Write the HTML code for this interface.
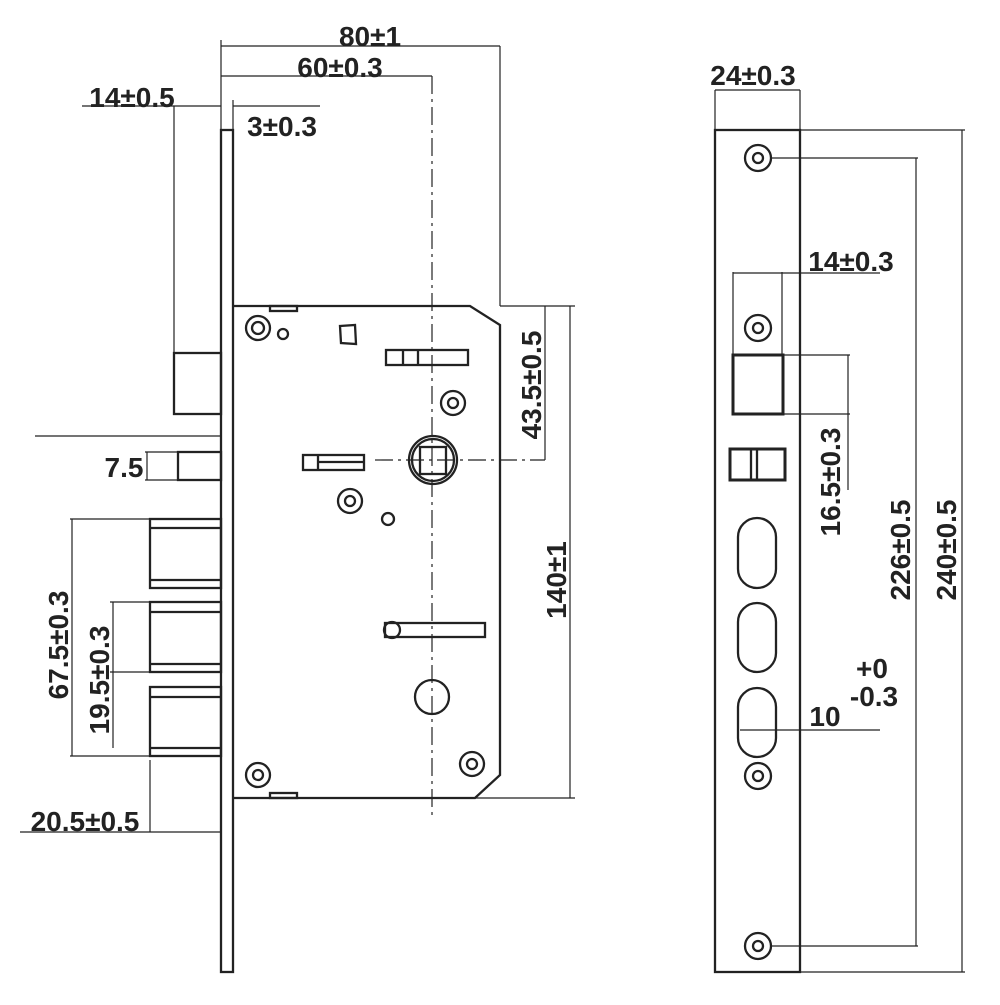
<!DOCTYPE html>
<html><head><meta charset="utf-8"><style>
html,body{margin:0;padding:0;background:#fff}
svg text{font-family:"Liberation Sans",Arial,sans-serif;font-weight:bold;font-size:28px;fill:#222}
</style></head><body>
<svg width="1000" height="1000" viewBox="0 0 1000 1000" xmlns="http://www.w3.org/2000/svg">
<g fill="none" stroke="#222" stroke-width="1.2">
<line x1="221" y1="46" x2="500" y2="46"/>
<line x1="500" y1="46" x2="500" y2="306"/>
<line x1="221" y1="40" x2="221" y2="130"/>
<line x1="221" y1="76" x2="432" y2="76"/>
<line x1="82" y1="106" x2="221" y2="106"/>
<line x1="233" y1="106" x2="320" y2="106"/>
<line x1="233" y1="100" x2="233" y2="306"/>
<line x1="174" y1="106" x2="174" y2="353"/>
<line x1="432" y1="76" x2="432" y2="820" stroke-dasharray="18,5,3,5"/>
<line x1="375" y1="460" x2="545" y2="460" stroke-dasharray="18,5,3,5"/>
<line x1="545" y1="306" x2="545" y2="460"/>
<line x1="500" y1="306" x2="575" y2="306"/>
<line x1="475" y1="798" x2="575" y2="798"/>
<line x1="570" y1="306" x2="570" y2="798"/>
<line x1="35" y1="436" x2="221" y2="436"/>
<line x1="145" y1="452" x2="178" y2="452"/>
<line x1="145" y1="480" x2="178" y2="480"/>
<line x1="147" y1="452" x2="147" y2="480"/>
<line x1="70" y1="519" x2="150" y2="519"/>
<line x1="70" y1="756" x2="150" y2="756"/>
<line x1="72" y1="519" x2="72" y2="756"/>
<line x1="110" y1="602" x2="150" y2="602"/>
<line x1="110" y1="672" x2="150" y2="672"/>
<line x1="113" y1="602" x2="113" y2="748"/>
<line x1="20" y1="832" x2="221" y2="832"/>
<line x1="150" y1="760" x2="150" y2="832"/>
<line x1="715" y1="90" x2="800" y2="90"/>
<line x1="715" y1="90" x2="715" y2="130"/>
<line x1="800" y1="90" x2="800" y2="130"/>
<line x1="772" y1="158" x2="918" y2="158"/>
<line x1="772" y1="946" x2="918" y2="946"/>
<line x1="916" y1="158" x2="916" y2="946"/>
<line x1="800" y1="130" x2="965" y2="130"/>
<line x1="800" y1="972" x2="965" y2="972"/>
<line x1="962" y1="130" x2="962" y2="972"/>
<line x1="733" y1="272" x2="733" y2="355"/>
<line x1="782" y1="272" x2="782" y2="355"/>
<line x1="733" y1="273" x2="880" y2="273"/>
<line x1="783" y1="355" x2="850" y2="355"/>
<line x1="783" y1="414" x2="850" y2="414"/>
<line x1="848" y1="355" x2="848" y2="490"/>
<line x1="740" y1="730" x2="880" y2="730"/>
</g>
<g fill="none" stroke="#222" stroke-width="2.3">
<rect x="221" y="130" width="12" height="842"/>
<path d="M233 306 H470 L500 325 V775 L475 798 H233"/>
<rect x="174" y="353" width="47" height="61"/>
<rect x="178" y="452" width="43" height="28"/>
<rect x="150" y="519" width="71" height="69"/>
<line x1="150" y1="528" x2="221" y2="528"/><line x1="150" y1="580" x2="221" y2="580"/>
<rect x="150" y="602" width="71" height="70"/>
<line x1="150" y1="612" x2="221" y2="612"/><line x1="150" y1="664" x2="221" y2="664"/>
<rect x="150" y="687" width="71" height="69"/>
<line x1="150" y1="697" x2="221" y2="697"/><line x1="150" y1="748" x2="221" y2="748"/>
<rect x="270" y="306" width="27" height="5"/>
<rect x="270" y="793" width="27" height="5"/>
<circle cx="258" cy="328" r="12"/><circle cx="258" cy="328" r="6"/>
<circle cx="283" cy="334" r="5"/>
<path d="M340 326 L355 325 L356 344 L341 343 Z"/>
<rect x="386" y="350" width="82" height="15"/>
<line x1="403" y1="350" x2="403" y2="365"/><line x1="418" y1="350" x2="418" y2="365"/>
<circle cx="453" cy="403" r="12"/><circle cx="453" cy="403" r="5"/>
<circle cx="433" cy="460" r="24"/><circle cx="433" cy="460" r="21"/>
<rect x="420" y="447" width="26" height="27"/>
<rect x="303" y="455" width="61" height="15"/>
<line x1="318" y1="455" x2="318" y2="470"/><line x1="318" y1="462" x2="364" y2="462"/>
<circle cx="350" cy="501" r="12"/><circle cx="350" cy="501" r="5"/>
<circle cx="388" cy="519" r="6"/>
<rect x="385" y="623" width="100" height="14"/>
<circle cx="392" cy="630" r="8"/>
<circle cx="432" cy="697" r="17"/>
<circle cx="258" cy="775" r="12"/><circle cx="258" cy="775" r="5"/>
<circle cx="472" cy="764" r="12"/><circle cx="472" cy="764" r="5"/>
<rect x="715" y="130" width="85" height="842"/>
<circle cx="758" cy="158" r="13"/><circle cx="758" cy="158" r="5"/>
<circle cx="758" cy="946" r="13"/><circle cx="758" cy="946" r="5"/>
<circle cx="758" cy="328" r="13"/><circle cx="758" cy="328" r="5"/>
<circle cx="758" cy="776" r="13"/><circle cx="758" cy="776" r="5"/>
<rect x="733" y="355" width="50" height="59" stroke-width="3"/>
<rect x="730" y="449" width="55" height="31" stroke-width="3"/>
<line x1="751" y1="449" x2="751" y2="480"/><line x1="757" y1="449" x2="757" y2="480"/>
<rect x="738" y="518" width="38" height="70" rx="19"/>
<rect x="738" y="603" width="38" height="69" rx="19"/>
<rect x="738" y="688" width="38" height="69" rx="19"/>
</g>
<text x="370" y="46" text-anchor="middle">80±1</text>
<text x="340" y="77" text-anchor="middle">60±0.3</text>
<text x="132" y="107" text-anchor="middle">14±0.5</text>
<text x="282" y="136" text-anchor="middle">3±0.3</text>
<text x="124" y="477" text-anchor="middle">7.5</text>
<text x="85" y="831" text-anchor="middle">20.5±0.5</text>
<text transform="translate(68,645) rotate(-90)" text-anchor="middle">67.5±0.3</text>
<text transform="translate(109,680) rotate(-90)" text-anchor="middle">19.5±0.3</text>
<text transform="translate(541,385) rotate(-90)" text-anchor="middle">43.5±0.5</text>
<text transform="translate(566,580) rotate(-90)" text-anchor="middle">140±1</text>
<text x="753" y="85" text-anchor="middle">24±0.3</text>
<text x="851" y="271" text-anchor="middle">14±0.3</text>
<text transform="translate(840,482) rotate(-90)" text-anchor="middle">16.5±0.3</text>
<text transform="translate(910,550) rotate(-90)" text-anchor="middle">226±0.5</text>
<text transform="translate(956,550) rotate(-90)" text-anchor="middle">240±0.5</text>
<text x="825" y="726" text-anchor="middle">10</text>
<text x="872" y="678" text-anchor="middle">+0</text>
<text x="874" y="706" text-anchor="middle">-0.3</text>
</svg>
</body></html>
